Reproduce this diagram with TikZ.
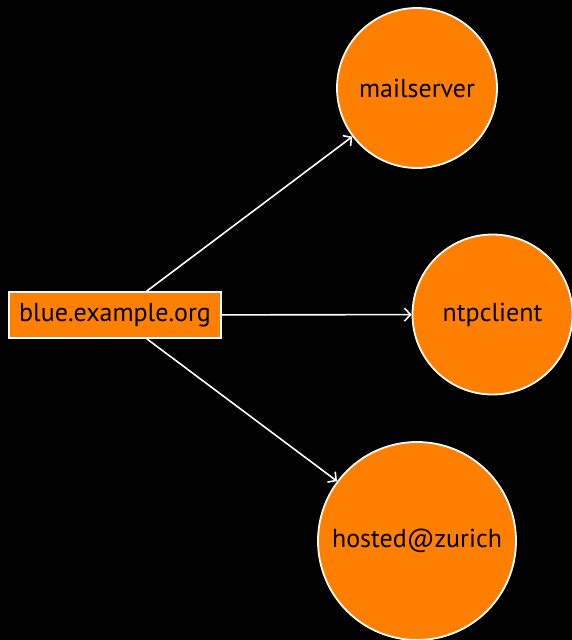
\documentclass[tikz,border=0pt]{standalone}
\usepackage{fontspec}
\usetikzlibrary{arrows.meta}
\setmainfont{PT Sans}
\definecolor{nodeorange}{HTML}{FF8000}
\begin{document}
\begin{tikzpicture}[x=1pt,y=-1pt,
  hostbox/.style={draw=white, line width=1.8pt, fill=nodeorange, rectangle,
    minimum width=212pt, minimum height=46pt, inner sep=0pt, font=\fontsize{26}{30}\selectfont},
  svc/.style={draw=white, line width=1.8pt, fill=nodeorange, circle, inner sep=0pt,
    font=\fontsize{26}{30}\selectfont},
  link/.style={draw=white, line width=1.6pt, -{Straight Barb[length=6pt,width=13pt]}}]
\fill[black] (0,0) rectangle (572,640);
\useasboundingbox (0,0) rectangle (572,640);
\node[hostbox] (host) at (115,315) {blue.example.org};
\node[svc, minimum size=160pt] (mail) at (417,88) {mailserver};
\node[svc, minimum size=160pt] (ntp) at (492.5,314.5) {ntpclient};
\node[svc, minimum size=198pt] (zurich) at (417,541) {hosted@zurich};
\draw[link] (host) -- (mail);
\draw[link] (host) -- (ntp);
\draw[link] (host) -- (zurich);
\end{tikzpicture}
\end{document}
